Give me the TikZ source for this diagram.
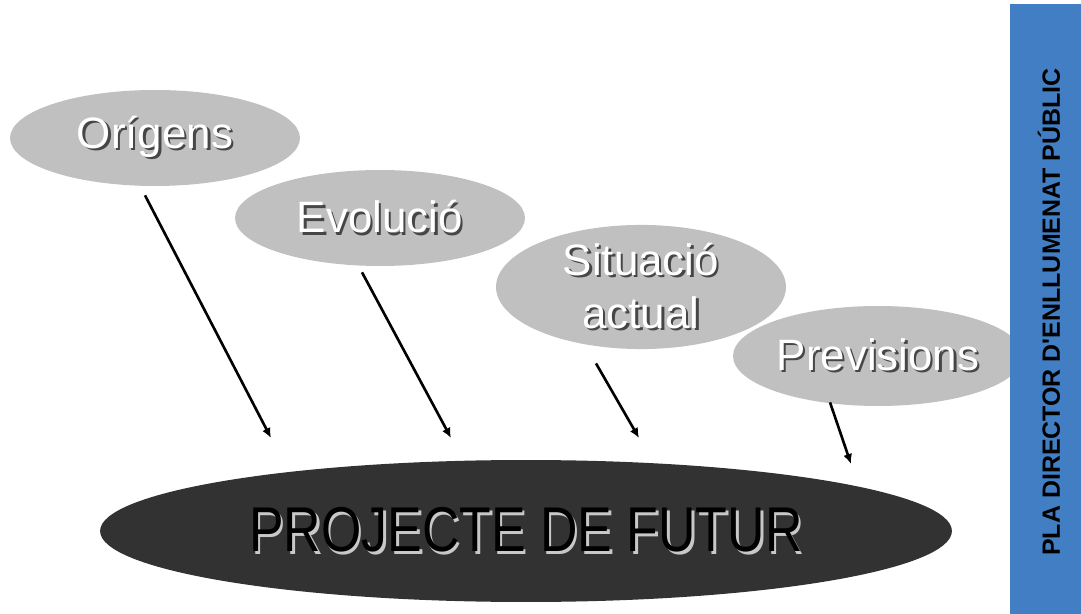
\documentclass[tikz,border=0pt]{standalone}
\usepackage{fontspec}
\setmainfont{Liberation Sans}
\newfontfamily\narrowfont[FakeStretch=0.82]{Liberation Sans}
\newfontfamily\bandfont[Ligatures=TeXOff]{Liberation Sans}
\usepackage{tikz}
\usetikzlibrary{shapes.geometric,arrows.meta,positioning}
\definecolor{bargray}{RGB}{192,192,192}
\definecolor{darkoval}{RGB}{50,50,50}
\definecolor{sideblue}{RGB}{66,126,196}
\definecolor{shadowgray}{RGB}{70,70,70}
\definecolor{rimgray}{RGB}{200,200,200}
% white letters with a dark drop shadow, dark letters with a light rim
\newcommand{\liftxt}[1]{\leavevmode\rlap{\kern1.3pt\raisebox{-1.3pt}{\textcolor{shadowgray}{#1}}}\textcolor{white}{#1}}
\newcommand{\sunktxt}[1]{\leavevmode\rlap{\kern1.4pt\raisebox{-1.4pt}{\textcolor{rimgray}{#1}}}\textcolor{black}{#1}}
\tikzset{
  stage/.style={ellipse,fill=bargray,minimum width=5.8cm,minimum height=1.92cm,
                inner sep=0pt,align=center,font=\fontsize{25}{30}\selectfont},
  goal/.style={ellipse,fill=darkoval,minimum width=17.04cm,minimum height=2.84cm,
               inner sep=0pt,font=\narrowfont\fontsize{36}{40}\selectfont},
  fl/.style={-{Latex[length=2mm,width=1.8mm]},line width=1.5pt,draw=black},
}

\begin{document}
\begin{tikzpicture}[x=0.02cm,y=-0.02cm]
  \useasboundingbox (0,0) rectangle (1081,614);
  \fill[white] (0,0) rectangle (1081,614);
  \node[stage] (org)  at (155,138) {\liftxt{Orígens}};
  \node[stage] (evo)  at (380,218) {\liftxt{Evolució}};
  \node[stage] (sit)  at (641,287) {\liftxt{Situació}\\\liftxt{actual}};
  \node[stage,minimum height=2cm] (prev) at (878,356) {\liftxt{Previsions}};
  \node[goal] (fut) at (526,531) {\sunktxt{PROJECTE DE FUTUR}};
  % arrow tips stop short of the big oval
  \coordinate (t1) at (271,438);
  \coordinate (t2) at (451,438);
  \coordinate (t3) at (639,438);
  \coordinate (t4) at (851,464);
  \draw[fl] ([shift={(-10,9)}]org.south) -- (t1);
  \draw[fl] ([shift={(-18,6)}]evo.south) -- (t2);
  \draw[fl] ([shift={(-45,14)}]sit.south) -- (t3);
  \draw[fl] ([shift={(-48,-4)}]prev.south) -- (t4);
  % side band
  \node[rectangle,fill=sideblue,minimum width=1.42cm,minimum height=12.2cm,
        inner sep=0pt,anchor=north west] (band) at (1010,4) {};
  \node[rotate=90,font=\bandfont\bfseries\fontsize{14.2}{16}\selectfont] (title)
        at (1049,312) {PLA DIRECTOR D'ENLLUMENAT PÚBLIC};
\end{tikzpicture}
\end{document}
